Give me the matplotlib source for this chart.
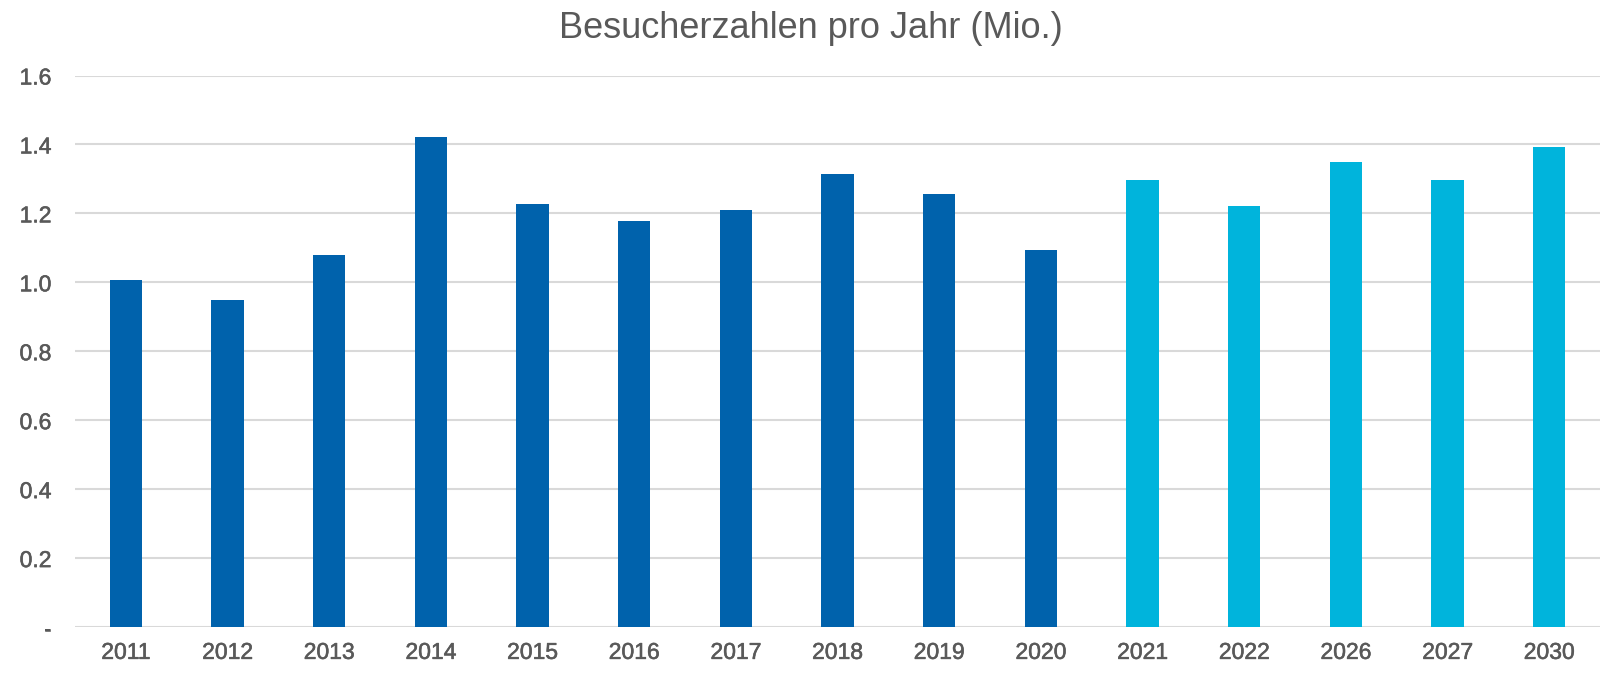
import matplotlib
matplotlib.use("Agg")
import matplotlib.pyplot as plt
import matplotlib.patheffects as pe
import numpy as np

years = ["2011", "2012", "2013", "2014", "2015", "2016", "2017", "2018", "2019", "2020",
         "2021", "2022", "2026", "2027", "2030"]
values = [1.006, 0.950, 1.078, 1.421, 1.227, 1.177, 1.209, 1.315, 1.255, 1.095,
          1.298, 1.222, 1.349, 1.298, 1.393]
is_forecast = [False] * 10 + [True] * 5
ytick_vals = [0.0, 0.2, 0.4, 0.6, 0.8, 1.0, 1.2, 1.4, 1.6]
ytick_labels = ["-", "0.2", "0.4", "0.6", "0.8", "1.0", "1.2", "1.4", "1.6"]
title = "Besucherzahlen pro Jahr (Mio.)"

plt.rcParams['font.family'] = ['Liberation Sans', 'DejaVu Sans']

fig = plt.figure(figsize=(16.01, 6.80), dpi=100)
ax = fig.add_axes([75/1601, 1 - 627/680, (1600 - 75)/1601, (627 - 75.5)/680])

x = np.arange(len(years))
colors = ["#00B4DC" if f else "#0062AC" for f in is_forecast]
ax.bar(x, values, width=0.32, color=colors, zorder=3)

ax.set_xlim(-0.5, len(years) - 0.5)
ax.set_ylim(0, 1.6)
ax.set_yticks(ytick_vals)
ax.set_yticklabels(ytick_labels)
ax.set_xticks(x)
ax.set_xticklabels(years)
ax.grid(axis='y', color='#D9D9D9', linewidth=1.5, zorder=0)
ax.set_axisbelow(True)
for s in ax.spines.values():
    s.set_visible(False)
ax.tick_params(axis='both', length=0, colors='#595959', labelsize=16.5)
ax.tick_params(axis='y', pad=17)
ax.tick_params(axis='x', pad=10)
stroke = [pe.withStroke(linewidth=0.4, foreground='#595959')]
for lbl in ax.get_yticklabels():
    lbl.set_horizontalalignment('right')
    lbl.set_path_effects(stroke)
for lbl in ax.get_xticklabels():
    lbl.set_path_effects(stroke)

fig.text(811/1601, 1 - 28/680, title, ha='center', va='center', fontsize=26, color='#595959')

fig.savefig("out.png", dpi=100, facecolor='white')
